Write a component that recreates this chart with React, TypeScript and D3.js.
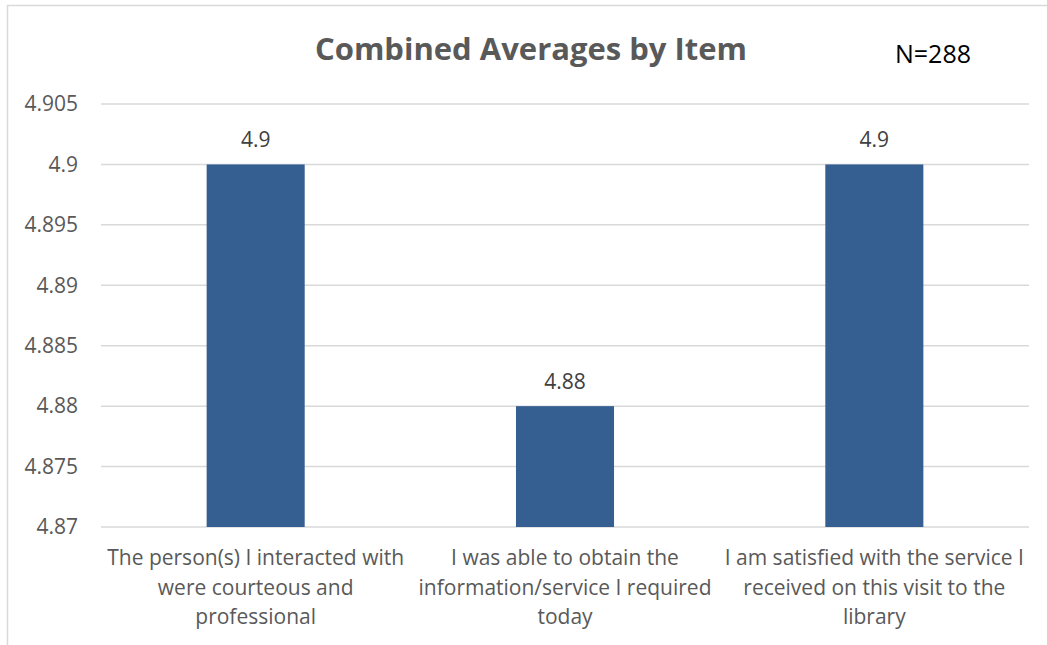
import React from "react";
import * as d3 from "d3";

const categories = [
  ["The person(s) I interacted with", "were courteous and", "professional"],
  ["I was able to obtain the", "information/service I required", "today"],
  ["I am satisfied with the service I", "received on this visit to the", "library"],
];
const values = [4.9, 4.88, 4.9];
const valueLabels = ["4.9", "4.88", "4.9"];
const yTicks = [4.87, 4.875, 4.88, 4.885, 4.89, 4.895, 4.9, 4.905];
const yTickLabels = ["4.87", "4.875", "4.88", "4.885", "4.89", "4.895", "4.9", "4.905"];
const title = "Combined Averages by Item";
const note = "N=288";

export default function App() {
  const W = 1047, H = 645;
  const left = 101, right = 1029, top = 104, bottom = 527;
  const x = d3.scaleBand<number>().domain(d3.range(values.length)).range([left, right]).paddingInner(0.683).paddingOuter(0.3415);
  const y = d3.scaleLinear().domain([4.87, 4.905]).range([bottom, top]);
  const font = "'Open Sans', sans-serif";
  return (
    <svg width={W} height={H} style={{ position: "absolute", left: 0, top: 0, background: "#fff" }}>
      <rect x={7.5} y={5.5} width={W + 10} height={H + 10} fill="#fff" stroke="#d9d9d9" strokeWidth={1.5} />
      <text x={531} y={60} textAnchor="middle" fontFamily={font} fontWeight="bold" fontSize={31} fill="#595959">{title}</text>
      <text x={933} y={63} textAnchor="middle" fontFamily={font} fontSize={25} fill="#000">{note}</text>
      {yTicks.map((t, i) => (
        <g key={i}>
          <line x1={left} x2={right} y1={y(t)} y2={y(t)} stroke="#d9d9d9" strokeWidth={1.5} />
          <text x={78} y={y(t)} dy="0.35em" textAnchor="end" fontFamily={font} fontSize={21} fill="#595959">{yTickLabels[i]}</text>
        </g>
      ))}
      {values.map((v, i) => (
        <g key={i}>
          <rect x={x(i)} y={y(v)} width={x.bandwidth()} height={y(4.87) - y(v)} fill="#355f91" />
          <text x={(x(i) as number) + x.bandwidth() / 2} y={y(v) - 17} textAnchor="middle" fontFamily={font} fontSize={21} fill="#404040">{valueLabels[i]}</text>
          {categories[i].map((line, j) => (
            <text key={j} x={(x(i) as number) + x.bandwidth() / 2} y={565 + j * 29.5} textAnchor="middle" fontFamily={font} fontSize={21} fill="#595959">{line}</text>
          ))}
        </g>
      ))}
    </svg>
  );
}
